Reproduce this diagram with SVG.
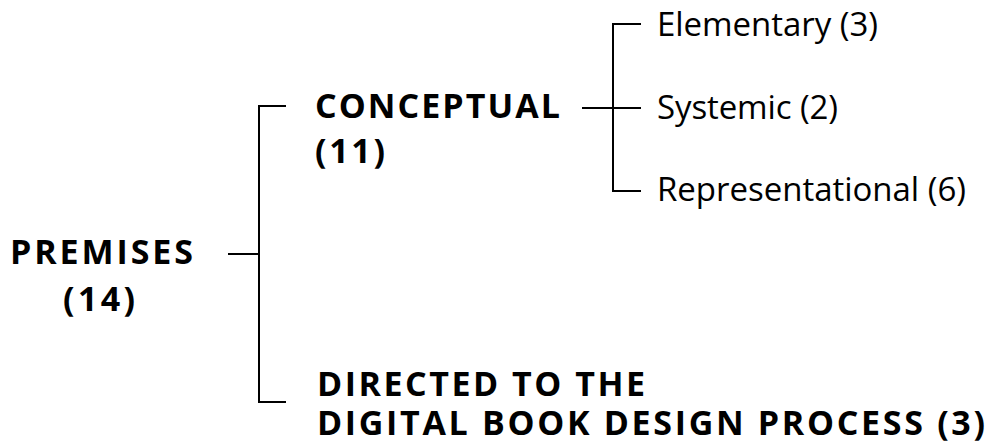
<svg xmlns="http://www.w3.org/2000/svg" width="993" height="443" viewBox="0 0 993 443">
<style>
.b{font-family:"Open Sans","Liberation Sans",sans-serif;font-weight:700;font-size:34px;fill:#000}
.r{font-family:"Open Sans","Liberation Sans",sans-serif;font-weight:400;font-size:33px;fill:#000}
.c{fill:none;stroke:#000;stroke-width:2}
</style>
<rect width="993" height="443" fill="#fff"/>
<g id="connectors">
<path class="c" d="M228 254H259M286 106H259V402H286"/>
<path class="c" d="M582 108H641M641 24H613V191H641"/>
</g>
<g id="premises">
<text class="b" x="10" y="264" textLength="183">PREMISES</text>
<text class="b" x="63" y="311" textLength="72">(14)</text>
</g>
<g id="conceptual">
<text class="b" x="315" y="118" textLength="245">CONCEPTUAL</text>
<text class="b" x="315" y="163" textLength="70">(11)</text>
</g>
<g id="directed">
<text class="b" x="317" y="396" textLength="328">DIRECTED TO THE</text>
<text class="b" x="317" y="435" textLength="668">DIGITAL BOOK DESIGN PROCESS (3)</text>
</g>
<g id="elementary">
<text class="r" x="657" y="36" textLength="221">Elementary (3)</text>
</g>
<g id="systemic">
<text class="r" x="657" y="119" textLength="181">Systemic (2)</text>
</g>
<g id="representational">
<text class="r" x="657" y="201" textLength="309">Representational (6)</text>
</g>
</svg>
